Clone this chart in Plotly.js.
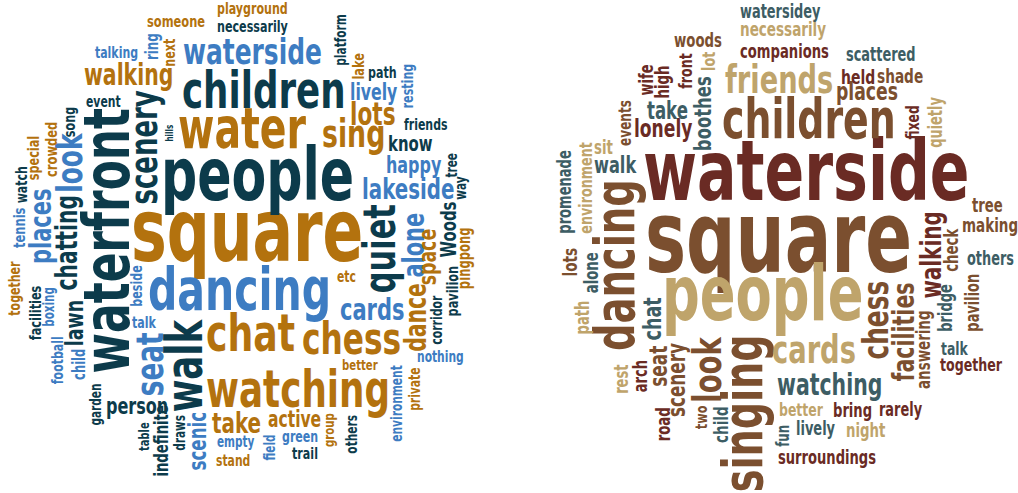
<!DOCTYPE html>
<html><head><meta charset="utf-8">
<script src="https://cdn.plot.ly/plotly-3.0.1.min.js"></script>
<style>html,body{margin:0;padding:0;background:#fff}#chart{width:1018px;height:493px}</style>
</head><body><div id="chart"></div>
<script>
// ---------- data: words and estimated weights ----------
const leftWords = ["square","people","waterfront","children","water","waterside","dancing","watching","chat","chess","walk","scenery","walking","quiet","lakeside","sing","lots","places","chatting","look","cards","dance","alone","space","seat","person","take","active","scenic","happy","know","lively","Woods","lawn","pingpong","pavilion","corridor","nothing","better","environment","private","group","others","etc","talking","ring","next","someone","playground","necessarily","platform","lake","path","resting","friends","tree","way","event","hills","song","crowded","special","watch","tennis","together","facilities","boxing","football","child","garden","beside","talk","table","indefinite","draws","empty","stand","field","green","trail"];
const leftWeights = [96,82,62,56,56,34,50,48,40,40,40,30,28,30,26,26,24,24,24,24,24,24,20,18,26,20,20,18,18,18,18,18,16,16,14,14,14,14,14,14,14,14,13,14,13,13,13,13,13,13,13,13,13,13,13,12,12,14,12,12,13,13,13,12,13,13,12,12,12,12,12,14,12,12,12,13,13,12,13,12];

const rightWords = ["square","waterside","people","children","dancing","singing","friends","cards","watching","look","chess","facilities","walking","places","lonely","take","walk","boothes","scenery","seat","chat","companions","necessarily","watersidey","scattered","held","shade","woods","front","high","wife","lot","events","sit","environment","promenade","fixed","quietly","tree","making","check","others","pavilion","bridge","answering","talk","together","rarely","bring","better","night","lively","fun","surroundings","child","two","road","arch","rest","lots","alone","path"];
const rightWeights = [100,90,80,58,55,50,40,35,30,30,28,28,26,22,22,22,20,20,20,20,18,17,17,16,17,16,16,16,16,16,14,14,16,16,14,14,14,14,15,15,14,16,14,14,13,17,16,16,16,16,16,16,14,15,13,13,14,14,14,14,14,14];

// ---------- styles ----------
const leftPalette = {T:'#0c3b4b', O:'#b3720e', B:'#3d7cc2'};
const rightPalette = {R:'#6a2b24', Br:'#7b4f2f', Tn:'#bfa46b', S:'#3d5d64'};
const STRETCH = 1.3;   // taller letters, like the condensed display face of the original

// ---------- cloud placement (same order as the words) ----------
// [colour key, vertical?, centre along text, baseline, ink length]
const leftPlace = [
["O",0,247,261,227],["T",0,258,200,187],["T",1,241,129,263],["T",0,263,108,160],["O",0,243,147,127],
["B",0,252,64,137],["B",0,239,310,178],["O",0,297,407,180],["O",0,251,351,87],["O",0,351,354,97],
["T",1,364,201,92],["T",1,147,157,113],["O",0,128,85,87],["T",1,248,395,87],["B",0,408,199,90],
["O",0,353,147,60],["O",0,373,126,43],["B",1,226,50,73],["T",1,243,76,93],["B",1,161,82,58],
["B",0,372,320,63],["O",1,317,426,67],["B",1,245,424,63],["O",1,257,436,55],["B",1,364,163,62],
["T",0,137,413,60],["O",0,236,433,48],["O",0,294,427,52],["B",1,441,206,57],["B",0,415,173,54],
["T",0,411,151,43],["B",0,374,100,46],["T",1,230,457,55],["T",1,323,83,44],["O",1,258,470,60],
["T",1,291,457,49],["T",1,320,442,49],["B",0,440,362,45],["O",0,360,371,35],["B",1,403,402,76],
["O",1,389,420,42],["O",1,430,334,33],["T",1,434,357,38],["O",0,346,282,18],["B",0,116,58,42],
["B",1,47,159,25],["O",1,52,175,27],["O",0,176,27,57],["O",0,252,15,69],["T",0,253,32,70],
["T",1,40,346,50],["O",1,66,363,25],["T",0,383,79,27],["B",1,86,413,43],["T",0,426,130,43],
["T",1,165,457,24],["T",1,188,466,23],["T",0,104,107,34],["T",1,133,173,16],["T",1,122,75,29],
["O",1,150,57,54],["O",1,158,39,43],["T",1,185,27,36],["B",1,228,25,40],["O",1,288,20,54],
["T",1,313,41,54],["B",1,307,54,38],["B",1,361,63,47],["B",1,365,85,30],["T",1,405,101,41],
["B",1,286,143,40],["B",0,145,329,24],["T",1,437,150,28],["T",1,440,167,70],["T",1,433,185,35],
["B",0,236,447,37],["O",0,233,466,33],["B",1,448,275,25],["B",0,300,443,35],["T",0,305,460,25]
];
const rightPlace = [
["Br",0,778,272,261],["R",0,806,200,322],["Tn",0,763,320,195],["Br",0,808,138,170],["Br",1,266,634,167],
["Br",1,414,762,153],["Tn",0,779,93,107],["Tn",0,814,363,82],["S",0,829,395,103],["Br",1,368,721,64],
["Br",1,320,888,77],["Br",1,332,914,98],["R",1,256,940,85],["Br",0,867,100,60],["R",0,664,137,57],
["S",0,667,119,40],["S",0,616,173,42],["S",1,113,711,73],["Br",1,380,685,73],["Br",1,366,667,40],
["S",1,319,661,42],["R",0,784,57,88],["Tn",0,783,37,85],["S",0,781,18,80],["S",0,881,61,68],
["R",0,858,84,32],["Br",0,900,84,45],["Br",0,698,46,47],["R",1,71,692,35],["R",1,82,668,31],
["R",1,80,653,30],["Tn",1,61,715,18],["Br",1,123,632,45],["Tn",0,604,153,18],["Tn",1,188,592,91],
["S",1,191,571,82],["R",1,123,918,33],["Tn",1,122,942,50],["Br",0,987,211,30],["Br",0,990,233,54],
["Br",1,249,957,43],["S",0,990,265,46],["Br",1,303,979,56],["S",1,308,952,46],["Br",1,350,930,77],
["S",0,955,355,27],["R",0,972,371,62],["R",0,901,416,42],["R",0,852,416,37],["Tn",0,802,416,43],
["Tn",0,866,436,38],["S",0,816,434,38],["S",1,436,789,21],["R",0,827,463,97],["S",1,425,728,35],
["Br",1,417,707,23],["R",1,424,670,32],["R",1,376,647,31],["Tn",1,379,628,28],["Br",1,262,578,27],
["S",1,273,598,40],["Tn",1,317,588,32]
];

// ---------- build ----------
const FAMILY = 'Liberation Sans Narrow, DejaVu Sans Condensed, sans-serif';
const CANVAS_FONT = 'bold 100px "Liberation Sans Narrow", "DejaVu Sans Condensed", sans-serif';
const ctx = document.createElement('canvas').getContext('2d');
ctx.font = CANVAS_FONT;

const annotations = [];
const hx = [], hy = [], ht = [];
function addCloud(words, weights, place, palette){
  words.forEach((w, i) => {
    const [ck, vert, along, base, len] = place[i];
    const m = ctx.measureText(w);
    const ink = m.actualBoundingBoxLeft + m.actualBoundingBoxRight;
    const asc = m.fontBoundingBoxAscent || 90.5;
    const desc = m.fontBoundingBoxDescent || 21.2;
    const s = len / ink;
    const off = ((m.actualBoundingBoxRight - m.actualBoundingBoxLeft) / 2 - m.width / 2) * s;
    const perp = (asc - desc) / 2 * s * STRETCH;
    let x, y;
    if (!vert) { x = along - off; y = base - perp; }
    else { y = along + off; x = base - perp; }
    annotations.push({
      x: x, y: y, xref: 'x', yref: 'y', text: w, showarrow: false,
      textangle: vert ? -90 : 0, xanchor: 'center', yanchor: 'middle',
      borderpad: 0, borderwidth: 0,
      font: {family: FAMILY, size: 100 * s, color: palette[ck], weight: 700}
    });
    hx.push(x); hy.push(y); ht.push(w + ': ' + weights[i]);
  });
}
addCloud(leftWords, leftWeights, leftPlace, leftPalette);
addCloud(rightWords, rightWeights, rightPlace, rightPalette);

const data = [{type:'scatter', mode:'markers', x:hx, y:hy, hovertext:ht, hoverinfo:'text',
  marker:{opacity:0, size:6}, showlegend:false}];
const layout = {
  width:1018, height:493, margin:{l:0,r:0,t:0,b:0},
  paper_bgcolor:'#ffffff', plot_bgcolor:'#ffffff', showlegend:false,
  xaxis:{range:[0,1018], visible:false, fixedrange:true},
  yaxis:{range:[493,0], visible:false, fixedrange:true},
  annotations: annotations
};
Plotly.newPlot('chart', data, layout, {displayModeBar:false, staticPlot:true}).then(gd => {
  // stretch each word vertically (in its own frame) about its box centre
  gd.querySelectorAll('.annotation-text').forEach(t => {
    const bb = t.getBBox();
    const cy = bb.y + bb.height / 2;
    const prev = t.getAttribute('transform') || '';
    t.setAttribute('transform', prev + ' translate(0,' + cy + ') scale(1,' + STRETCH + ') translate(0,' + (-cy) + ')');
  });
});
</script>
</body></html>
